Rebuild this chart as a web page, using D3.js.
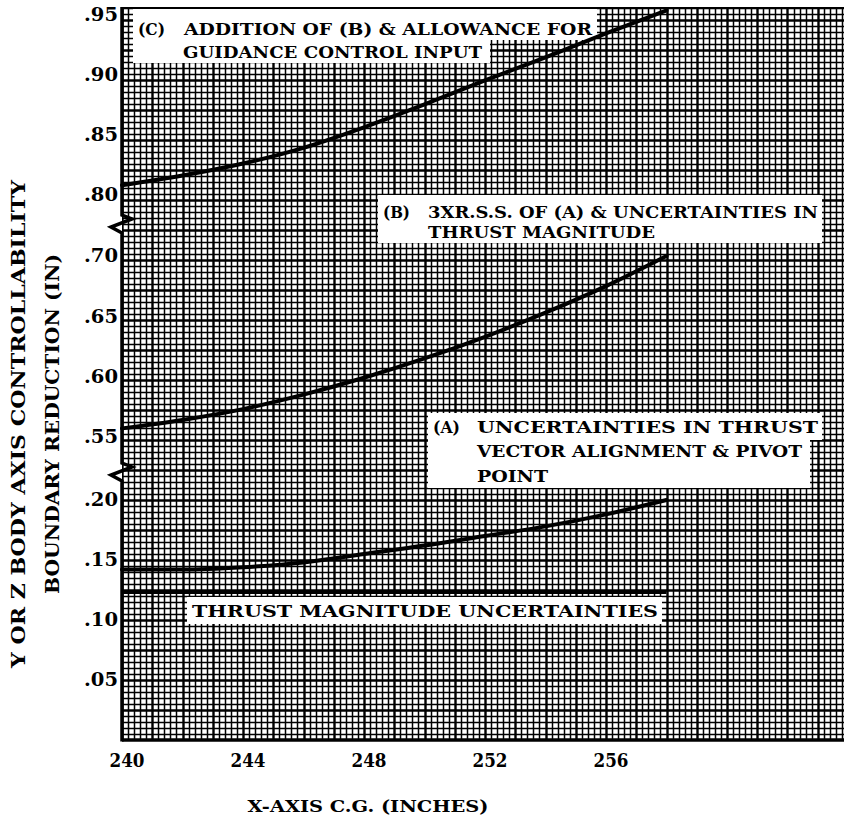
<!DOCTYPE html>
<html>
<head>
<meta charset="utf-8">
<script src="https://cdn.jsdelivr.net/npm/d3@7/dist/d3.min.js"></script>
<style>
  body { margin: 0; background: #fff; }
  svg { display: block; }
  text { font-family: "DejaVu Serif", "Liberation Serif", serif; font-weight: bold; fill: #000; }
</style>
</head>
<body>
<svg id="chart" width="844" height="816"></svg>
<script>
// ---- data -------------------------------------------------------------
const xTicks = [240, 244, 248, 252, 256];
const yTickValues = [0.05, 0.10, 0.15, 0.20, 0.55, 0.60, 0.65, 0.70, 0.80, 0.85, 0.90, 0.95];
const yTickLabels = [".05", ".10", ".15", ".20", ".55", ".60", ".65", ".70", ".80", ".85", ".90", ".95"];

const cgX = [240, 242, 244, 246, 248, 250, 252, 254, 256, 258];
// (C) addition of (B) & allowance for guidance control input
const curveC = [0.808, 0.816, 0.826, 0.839, 0.856, 0.875, 0.895, 0.914, 0.934, 0.953];
// (B) 3x R.S.S. of (A) & thrust magnitude uncertainties
const curveB = [0.557, 0.564, 0.573, 0.585, 0.599, 0.615, 0.633, 0.653, 0.675, 0.700];
// (A) thrust vector alignment & pivot point uncertainties
const curveA = [0.142, 0.142, 0.144, 0.148, 0.155, 0.162, 0.170, 0.178, 0.188, 0.200];
// thrust magnitude uncertainties (constant)
const thrustX = [240, 258];
const thrustMag = [0.123, 0.123];

// ---- frame ------------------------------------------------------------
const W = 844, H = 816;
const plotLeft = 122, plotBottom = 740, plotTop = 7;

const svg = d3.select("#chart");

const x = d3.scaleLinear().domain([240, 264]).range([122, 848]);
// broken y axis: three stacked segments folded into one piecewise scale
const y = d3.scaleLinear()
  .domain([0, 0.2225, 0.52, 0.7257, 0.775, 0.9575])
  .range([740, 473, 473, 225, 225, 5]);
// the ruled paper itself is uniform: one cell = 0.2 in across, 6 px up
const paperY = d3.scaleLinear().domain([0, 1]).range([plotBottom, plotBottom - 6]);

// ---- grid paper -------------------------------------------------------
svg.append("clipPath").attr("id", "plotClip")
  .append("rect").attr("x", plotLeft).attr("y", plotTop)
  .attr("width", W - plotLeft).attr("height", plotBottom - plotTop);

const grid = svg.append("g").attr("clip-path", "url(#plotClip)").attr("stroke", "#000");

const px = v => Math.round(v) + 0.5;
const vCells = d3.range(0, 121);
grid.selectAll("line.v").data(vCells).join("line")
  .attr("x1", d => px(x(240 + d * 0.2))).attr("x2", d => px(x(240 + d * 0.2)))
  .attr("y1", plotTop).attr("y2", plotBottom)
  .attr("stroke-width", d => d % 5 === 0 ? 2.4 : 1.5);

const hCells = d3.range(0, 124);
grid.selectAll("line.h").data(hCells).join("line")
  .attr("x1", plotLeft).attr("x2", W)
  .attr("y1", d => px(paperY(d))).attr("y2", d => px(paperY(d)))
  .attr("stroke-width", d => d % 5 === 0 ? 2.4 : 1.5);

// ---- white label boxes ------------------------------------------------
const boxes = [
  [133, 8, 597, 40], [133, 40, 490, 63],
  [378, 195, 822, 243],
  [428, 413, 822, 440], [428, 440, 810, 488],
  [187, 597, 662, 624]
];
svg.append("g").selectAll("rect").data(boxes).join("rect")
  .attr("x", d => d[0]).attr("y", d => d[1])
  .attr("width", d => d[2] - d[0]).attr("height", d => d[3] - d[1])
  .attr("fill", "#fff");

// ---- curves -----------------------------------------------------------
const line = d3.line().x(d => x(d[0])).y(d => y(d[1])).curve(d3.curveMonotoneX);
const curves = [curveC, curveB, curveA];
svg.append("g").selectAll("path").data(curves).join("path")
  .attr("d", c => line(cgX.map((xx, i) => [xx, c[i]])))
  .attr("fill", "none").attr("stroke", "#000")
  .attr("stroke-width", 4).attr("stroke-linecap", "round");

svg.append("path")
  .attr("d", line(thrustX.map((xx, i) => [xx, thrustMag[i]])))
  .attr("fill", "none").attr("stroke", "#000").attr("stroke-width", 3);

// ---- borders & axis breaks ---------------------------------------------
const frame = svg.append("g").attr("stroke", "#000").attr("fill", "none");
frame.append("line").attr("x1", plotLeft).attr("x2", W)
  .attr("y1", plotBottom).attr("y2", plotBottom).attr("stroke-width", 3.5);
frame.append("line").attr("x1", plotLeft).attr("x2", W)
  .attr("y1", plotTop + 1).attr("y2", plotTop + 1).attr("stroke-width", 2);
const breakYs = [y(0.7257), y(0.2225)];
const axisPath = d3.path();
axisPath.moveTo(plotLeft, plotTop);
breakYs.forEach(by => {
  axisPath.lineTo(plotLeft, by - 10);
  axisPath.lineTo(plotLeft + 10, by - 6);
  axisPath.lineTo(plotLeft - 11, by + 2);
  axisPath.lineTo(plotLeft, by + 8);
});
axisPath.lineTo(plotLeft, plotBottom + 1.5);
frame.append("path").attr("d", axisPath.toString())
  .attr("stroke-width", 3.5).attr("stroke-linejoin", "miter");

// ---- tick labels ------------------------------------------------------
svg.append("g").selectAll("text").data(yTickValues).join("text")
  .attr("x", 84).attr("y", d => y(d)).attr("dy", "0.36em")
  .attr("font-size", 18)
  .attr("textLength", 34).attr("lengthAdjust", "spacingAndGlyphs")
  .text((d, i) => yTickLabels[i]);

svg.append("g").selectAll("text").data(xTicks).join("text")
  .attr("x", d => x(d) + 5 - 17.5).attr("y", 767)
  .attr("font-size", 19)
  .attr("textLength", 35).attr("lengthAdjust", "spacingAndGlyphs")
  .text(d => d);

// ---- titles -----------------------------------------------------------
svg.append("text").attr("x", 368).attr("y", 812)
  .attr("text-anchor", "middle").attr("font-size", 17).attr("font-weight", "normal")
  .attr("textLength", 241).attr("lengthAdjust", "spacingAndGlyphs")
  .text("X-AXIS C.G. (INCHES)");

const yTitle = [
  { t: "Y OR Z BODY AXIS CONTROLLABILITY", cx: 25, len: 488 },
  { t: "BOUNDARY REDUCTION (IN)", cx: 59, len: 340 }
];
svg.append("g").selectAll("text").data(yTitle).join("text")
  .attr("transform", d => `translate(${d.cx},424) rotate(-90)`)
  .attr("text-anchor", "middle").attr("font-size", 18)
  .attr("textLength", d => d.len).attr("lengthAdjust", "spacingAndGlyphs")
  .text(d => d.t);

// ---- annotations ------------------------------------------------------
const notes = [
  { t: "(C)", x: 138, y: 35, len: 27 },
  { t: "ADDITION OF (B) & ALLOWANCE FOR", x: 184, y: 35, len: 408 },
  { t: "GUIDANCE CONTROL INPUT", x: 183, y: 58, len: 299 },
  { t: "(B)", x: 383, y: 218, len: 27 },
  { t: "3XR.S.S. OF (A) & UNCERTAINTIES IN", x: 428, y: 218, len: 390 },
  { t: "THRUST MAGNITUDE", x: 428, y: 238, len: 227 },
  { t: "(A)", x: 433, y: 433, len: 27 },
  { t: "UNCERTAINTIES IN THRUST", x: 477, y: 433, len: 341 },
  { t: "VECTOR ALIGNMENT & PIVOT", x: 477, y: 457, len: 325 },
  { t: "POINT", x: 477, y: 482, len: 71 },
  { t: "THRUST MAGNITUDE UNCERTAINTIES", x: 192, y: 617, len: 466 }
];
svg.append("g").selectAll("text").data(notes).join("text")
  .attr("x", d => d.x).attr("y", d => d.y).attr("font-size", 17)
  .attr("textLength", d => d.len).attr("lengthAdjust", "spacingAndGlyphs")
  .text(d => d.t);
</script>
</body>
</html>
